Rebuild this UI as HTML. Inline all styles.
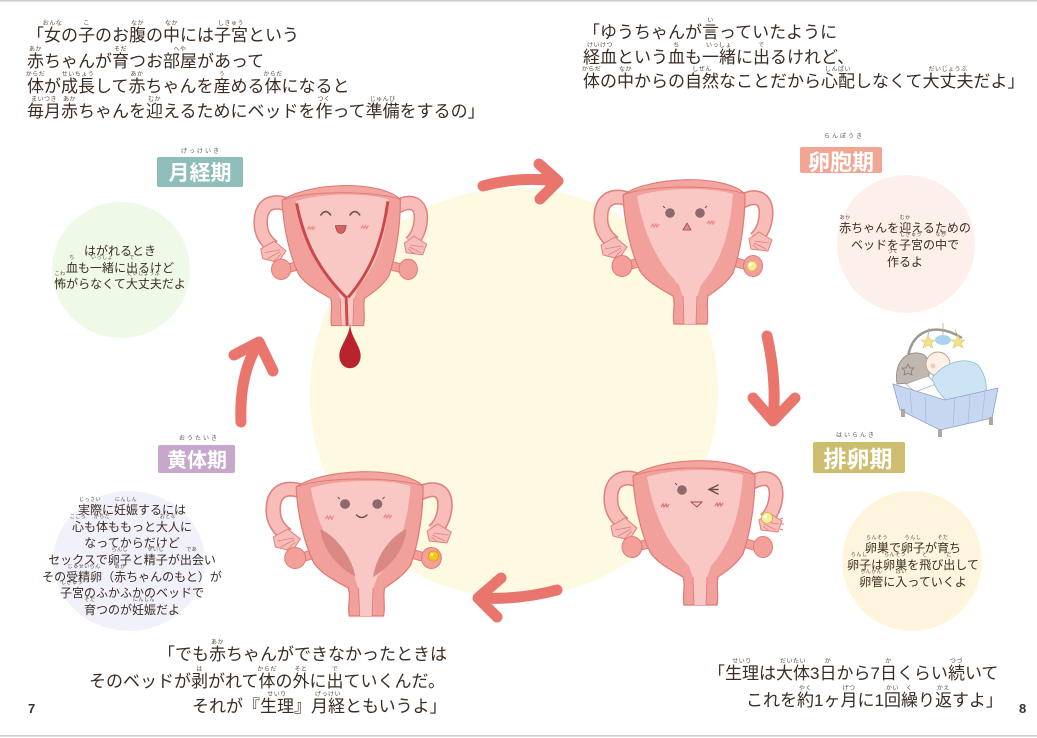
<!DOCTYPE html>
<html><head><meta charset="utf-8">
<style>
body{margin:0;width:1037px;height:738px;position:relative;overflow:hidden;background:#fff;font-family:"Liberation Sans","Noto Sans CJK JP",sans-serif;color:#3b2b20}
.t{position:absolute;white-space:nowrap;font-size:17px;line-height:17px}
.r{position:relative}
.r i{position:absolute;left:50%;transform:translateX(-50%);top:-5px;font-size:6px;line-height:6px;font-style:normal;white-space:nowrap;color:#5a4a3a;letter-spacing:0.5px}
.c{position:absolute;width:220px;text-align:center;font-size:12px;white-space:nowrap}
.c .r i{font-size:5px;line-height:5px;top:-5px}
svg{position:absolute;left:0;top:0}
</style></head><body>
<svg width="1037" height="738" viewBox="0 0 1037 738">
<defs>
<g id="ut">
 <path d="M42,28 C26,18 9,20 8,40 C7,54 13,62 21,68" fill="none" stroke="#e0807b" stroke-width="15"/>
 <path d="M42,28 C26,18 9,20 8,40 C7,54 13,62 21,68" fill="none" stroke="#f8bdb9" stroke-width="12"/>
 <path d="M146,28 C162,18 174,22 173,40 C172,52 168,59 162,64" fill="none" stroke="#e0807b" stroke-width="15"/>
 <path d="M146,28 C162,18 174,22 173,40 C172,52 168,59 162,64" fill="none" stroke="#f8bdb9" stroke-width="12"/>
 <path d="M22,62 L34,72 L26,84 L10,80 L8,70 Z" fill="#f8bdb9" stroke="#e0807b" stroke-width="1"/>
 <path d="M28,71 L12,74 M28,73 L15,80 M29,75 L21,83" stroke="#e0807b" stroke-width="0.8"/>
 <path d="M166,57 L179,65 L175,76 L158,74 L156,64 Z" fill="#f8bdb9" stroke="#e0807b" stroke-width="1"/>
 <path d="M162,66 L176,68 M161,68 L173,74 M160,70 L166,75" stroke="#e0807b" stroke-width="0.8"/>
 <path d="M49,82 L35,86 L35,95 L49,91 Z" fill="#f3a09b" stroke="#df7a76" stroke-width="1"/>
 <path d="M140,82 L154,86 L154,95 L140,91 Z" fill="#f3a09b" stroke="#df7a76" stroke-width="1"/>
 <ellipse cx="29" cy="91" rx="10" ry="10.5" fill="#f3a09b" stroke="#df7a76" stroke-width="1"/>
 <ellipse cx="160" cy="91" rx="9.5" ry="10.5" fill="#f3a09b" stroke="#df7a76" stroke-width="1"/>
 <path d="M30,20 C55,2 130,-2 152,19 C152,45 148,75 140,98 C132,110 122,116 115,121 C113,130 116,138 114,149 L81,149 C79,138 83,130 80,121 C70,115 55,108 47,96 C37,75 31,45 30,20 Z" fill="#f2a09b" stroke="#df7a76" stroke-width="1.2"/>
 <path d="M44,21 C70,12 118,12 140,19 C137,55 130,85 108,110 L104,122 L90,122 L86,110 C62,85 50,55 44,21 Z" fill="#fac8c4"/>
 <path d="M90,121 L104,121 L103,149 L91,149 Z" fill="#fac8c4"/>
 <path d="M90,121 L91,149 M104,121 L103,149" stroke="#df7a76" stroke-width="0.8"/>
 <path d="M30,20 C55,2 130,-2 152,19 C128,10 56,9 30,20 Z" fill="#f4a5a0" stroke="#df7a76" stroke-width="0.9"/>
</g>
</defs>
<rect width="1037" height="738" fill="#fff"/>
<rect x="0" y="0" width="1037" height="1.6" fill="#cfcfcf"/>
<rect x="0" y="735" width="1037" height="1.6" fill="#cfcfcf"/>

<!-- background blobs -->
<path d="M514,188 C630,186 720,280 718,395 C716,505 630,596 514,597 C400,598 310,510 310,395 C310,275 400,190 514,188 Z" fill="#fef9e1"/>
<ellipse cx="121" cy="270" rx="69" ry="68" fill="#eefae7"/>
<ellipse cx="906" cy="244" rx="69" ry="69" fill="#fdf0ea"/>
<ellipse cx="129" cy="561" rx="76" ry="70" fill="#f1f1fb"/>
<ellipse cx="912" cy="561" rx="70" ry="70" fill="#fef5dc"/>

<!-- badges -->
<rect x="157" y="157" width="86" height="30" rx="2" fill="#8fbdb9"/>
<rect x="800" y="147" width="82" height="26" rx="2" fill="#f3a593"/>
<rect x="158" y="445" width="77" height="28" rx="2" fill="#c7a7cc"/>
<rect x="813" y="442" width="92" height="31" rx="2" fill="#cfbd6f"/>
<g font-family="Liberation Sans, Noto Sans CJK JP, sans-serif" font-weight="700" fill="#fff" text-anchor="middle">
 <text x="200" y="180" font-size="21">月経期</text>
 <text x="841" y="170" font-size="22">卵胞期</text>
 <text x="197" y="467" font-size="20">黄体期</text>
 <text x="858" y="467" font-size="23">排卵期</text>
</g>
<g font-family="Liberation Sans, Noto Sans CJK JP, sans-serif" font-size="6" fill="#555" text-anchor="middle" letter-spacing="2">
 <text x="201" y="153">げっけいき</text>
 <text x="844" y="138">らんぽうき</text>
 <text x="199" y="440">おうたいき</text>
 <text x="856" y="437">はいらんき</text>
</g>

<!-- arrows -->
<g fill="none" stroke="#ea756d" stroke-width="11" stroke-linecap="round" stroke-linejoin="round">
 <path d="M483,186 Q520,176 556,181"/>
 <path d="M539,164 L558,181 L540,199"/>
 <path d="M767,336 Q777,380 773,420"/>
 <path d="M753,398 L773,421 L795,398"/>
 <path d="M557,590 Q520,600 479,598"/>
 <path d="M501,578 L478,598 L497,617"/>
 <path d="M241,422 Q239,375 258,344"/>
 <path d="M234,355 L259,342 L273,371"/>
</g>

<!-- TL uterus (menstrual) -->
<g transform="translate(253,181) scale(0.97)">
 <use href="#ut"/>
 <path d="M45,23 C52,60 66,90 96,120 L97,149" fill="none" stroke="#c43b3d" stroke-width="3" opacity="0.9"/>
 <path d="M139,21 C134,58 124,90 98,120" fill="none" stroke="#c43b3d" stroke-width="3" opacity="0.9"/>
 <path d="M100,146 C100,160 111,170 111,180 C111,188 106,193 100,193 C94,193 89,188 89,180 C89,170 100,160 100,146 Z" fill="#b8232d"/>
 <path d="M70,35 Q75,28 80,35 M100,35 Q105,28 110,35" fill="none" stroke="#6e5050" stroke-width="1.6" stroke-linecap="round"/>
 <path d="M85,46 L96,46 Q95,54 90.5,54 Q86,54 85,46 Z" fill="#d9605e" stroke="#8a4444" stroke-width="0.8"/>
 <path d="M56,50 l2,-3 l1,3 l2,-3 l1,3 l2,-3 M111,49 l2,-3 l1,3 l2,-3 l1,3 l2,-3" fill="none" stroke="#f08a85" stroke-width="1.2"/>
</g>

<!-- TR uterus (follicular) -->
<g transform="translate(593,175)">
 <use href="#ut"/>
 <circle cx="77" cy="38" r="4.8" fill="#8c6a6b"/>
 <circle cx="107" cy="38" r="4.8" fill="#8c6a6b"/>
 <path d="M72,33 l-2,-2 M112,33 l2,-2" stroke="#6e5050" stroke-width="1"/>
 <path d="M90,55 L94,48 L98,55 Z" fill="#e88b86" stroke="#9a4a4a" stroke-width="0.8"/>
 <path d="M58,52 l2,-3 l1,3 l2,-3 l1,3 l2,-3 M114,49 l2,-3 l1,3 l2,-3 l1,3 l2,-3" fill="none" stroke="#f08a85" stroke-width="1.2"/>
 <circle cx="159" cy="91" r="4.8" fill="#f4ee90" stroke="#d6c95a" stroke-width="0.8"/>
 <circle cx="157.5" cy="89.5" r="1.5" fill="#fff"/>
</g>

<!-- BL uterus (luteal) -->
<g transform="translate(265,467) scale(1.04,1)">
 <use href="#ut"/>
 <path d="M53,62 C70,70 84,92 87,110 C70,100 56,84 53,62 Z" fill="#d98884"/>
 <path d="M136,62 C119,70 106,92 104,110 C120,100 134,84 136,62 Z" fill="#d98884"/>
 <circle cx="77" cy="37" r="4.8" fill="#8c6a6b"/>
 <circle cx="108" cy="37" r="4.8" fill="#8c6a6b"/>
 <path d="M72,32 l-2,-2 M113,32 l2,-2" stroke="#6e5050" stroke-width="1"/>
 <path d="M88,48 Q93,53 98,48" fill="none" stroke="#6e5050" stroke-width="1.5" stroke-linecap="round"/>
 <path d="M58,52 l2,-3 l1,3 l2,-3 l1,3 l2,-3 M114,51 l2,-3 l1,3 l2,-3 l1,3 l2,-3" fill="none" stroke="#f08a85" stroke-width="1.2"/>
 <circle cx="162" cy="89" r="5" fill="#f5c518" stroke="#e0a000" stroke-width="0.8"/>
 <circle cx="160.5" cy="87.5" r="1.5" fill="#fff6c0"/>
</g>

<!-- BR uterus (ovulation) -->
<g transform="translate(603,456)">
 <use href="#ut"/>
 <circle cx="79" cy="34" r="4.8" fill="#8c6a6b"/>
 <path d="M74,29 l-2,-2" stroke="#6e5050" stroke-width="1"/>
 <path d="M115,29 L106,33.5 L115,38 M108,33.5 L115,33.5" fill="none" stroke="#6e5050" stroke-width="1.5" stroke-linecap="round"/>
 <path d="M88,46 L99,46 L94,51 Z" fill="#f6c2be" stroke="#9a4a4a" stroke-width="0.9"/>
 <path d="M58,51 l2,-3 l1,3 l2,-3 l1,3 l2,-3 M112,50 l2,-3 l1,3 l2,-3 l1,3 l2,-3" fill="none" stroke="#e06f6a" stroke-width="1.2"/>
 <circle cx="164" cy="62" r="5.5" fill="#f7ef9a" stroke="#c9b84a" stroke-width="0.8"/>
 <circle cx="162.5" cy="60.5" r="1.6" fill="#fff"/>
 <path d="M177,63 l3,-1 M178,68 l3,0 M177,73 l3,1" stroke="#e07e7a" stroke-width="1"/>
</g>

<!-- baby in bed -->
<g>
 <path d="M908,368 C905,336 930,318 962,338" stroke="#a09890" stroke-width="2.5" fill="none"/>
 <path d="M929,328 L928,336 M943,323 L943,335 M955,330 L958,336" stroke="#b0a8a0" stroke-width="0.8"/>
 <polygon points="928,335 930,340 935,340 931,343 933,348 928,345 923,348 925,343 921,340 926,340" fill="#f6e08c" stroke="#d9c36a" stroke-width="0.6"/>
 <ellipse cx="943" cy="340" rx="8" ry="5" fill="#a8d4ef"/>
 <polygon points="958,335 960,340 965,340 961,343 963,348 958,345 953,348 955,343 951,340 956,340" fill="#f6e08c" stroke="#d9c36a" stroke-width="0.6"/>
 <path d="M897,384 C894,364 904,352 918,353 C930,354 931,367 928,382 Z" fill="#bfb7b0" stroke="#8e857e" stroke-width="0.8"/>
 <polygon points="908,364 910,368 914,368 911,371 912,375 908,373 904,375 905,371 902,368 906,368" fill="none" stroke="#7d746e" stroke-width="0.7"/>
 <path d="M906,384 L928,376 L936,384 L915,392 Z" fill="#ffffff" stroke="#9aa6c0" stroke-width="0.7"/>
 <circle cx="938" cy="364" r="12" fill="#fdf0e6" stroke="#b8a293" stroke-width="0.9"/>
 <circle cx="933" cy="366" r="2.5" fill="#f6c9c0"/>
 <path d="M932,378 C945,362 965,356 978,365 C986,375 988,388 985,398 L948,402 C940,395 935,388 932,378 Z" fill="#cde4f4" stroke="#8fb8d6" stroke-width="0.8"/>
 <path d="M893,384 L945,400 L998,388 L992,418 L940,430 L900,410 Z" fill="#c7d7f1" stroke="#8aa0cc" stroke-width="0.8"/>
 <path d="M910,392 L912,414 M925,397 L926,422 M955,398 L953,426 M970,395 L968,424 M985,392 L982,420" stroke="#9fb3da" stroke-width="0.6"/>
 <rect x="901" y="409" width="4" height="8" fill="#b0a69e"/>
 <rect x="938" y="429" width="4" height="8" fill="#b0a69e"/>
 <rect x="989" y="417" width="4" height="8" fill="#b0a69e"/>
</g>

<text x="28" y="713" font-family="Liberation Sans, sans-serif" font-weight="700" font-size="13" fill="#333">7</text>
<text x="1019" y="713" font-family="Liberation Sans, sans-serif" font-weight="700" font-size="13" fill="#333">8</text>
</svg>

<!-- top-left narration -->
<div class="t" style="left:27px;top:27px">「<span class="r">女<i>おんな</i></span>の<span class="r">子<i>こ</i></span>のお<span class="r">腹<i>なか</i></span>の<span class="r">中<i>なか</i></span>には<span class="r">子宮<i>しきゅう</i></span>という</div>
<div class="t" style="left:27px;top:53px"><span class="r">赤<i>あか</i></span>ちゃんが<span class="r">育<i>そだ</i></span>つお<span class="r">部屋<i>へや</i></span>があって</div>
<div class="t" style="left:27px;top:78px"><span class="r">体<i>からだ</i></span>が<span class="r">成長<i>せいちょう</i></span>して<span class="r">赤<i>あか</i></span>ちゃんを<span class="r">産<i>う</i></span>める<span class="r">体<i>からだ</i></span>になると</div>
<div class="t" style="left:27px;top:103px"><span class="r">毎月<i>まいつき</i></span><span class="r">赤<i>あか</i></span>ちゃんを<span class="r">迎<i>むか</i></span>えるためにベッドを<span class="r">作<i>つく</i></span>って<span class="r">準備<i>じゅんび</i></span>をするの」</div>

<!-- top-right narration -->
<div class="t" style="left:583px;top:24px">「ゆうちゃんが<span class="r">言<i>い</i></span>っていたように</div>
<div class="t" style="left:583px;top:49px"><span class="r">経血<i>けいけつ</i></span>という<span class="r">血<i>ち</i></span>も<span class="r">一緒<i>いっしょ</i></span>に<span class="r">出<i>で</i></span>るけれど、</div>
<div class="t" style="left:583px;top:73px"><span class="r">体<i>からだ</i></span>の<span class="r">中<i>なか</i></span>からの<span class="r">自然<i>しぜん</i></span>なことだから<span class="r">心配<i>しんぱい</i></span>しなくて<span class="r">大丈夫<i>だいじょうぶ</i></span>だよ」</div>

<!-- bottom-left narration -->
<div class="t" style="left:158px;top:646px">「でも<span class="r">赤<i>あか</i></span>ちゃんができなかったときは</div>
<div class="t" style="left:89px;top:673px">そのベッドが<span class="r">剥<i>は</i></span>がれて<span class="r">体<i>からだ</i></span>の<span class="r">外<i>そと</i></span>に<span class="r">出<i>で</i></span>ていくんだ。</div>
<div class="t" style="left:192px;top:698px">それが『<span class="r">生理<i>せいり</i></span>』<span class="r">月経<i>げっけい</i></span>ともいうよ」</div>

<!-- bottom-right narration -->
<div class="t" style="left:708px;top:665px">「<span class="r">生理<i>せいり</i></span>は<span class="r">大体<i>だいたい</i></span>3<span class="r">日<i>か</i></span>から7<span class="r">日<i>か</i></span>くらい<span class="r">続<i>つづ</i></span>いて</div>
<div class="t" style="left:746px;top:692px">これを<span class="r">約<i>やく</i></span>1ヶ<span class="r">月<i>げつ</i></span>に1<span class="r">回<i>かい</i></span><span class="r">繰<i>く</i></span>り<span class="r">返<i>かえ</i></span>すよ」</div>

<!-- circle texts -->
<div class="c" style="left:10px;top:243px;line-height:16.5px">はがれるとき<br><span class="r">血<i>ち</i></span>も<span class="r">一緒<i>いっしょ</i></span>に<span class="r">出<i>で</i></span>るけど<br><span class="r">怖<i>こわ</i></span>がらなくて<span class="r">大丈夫<i>だいじょうぶ</i></span>だよ</div>

<div class="c" style="left:795px;top:220px;line-height:17px"><span class="r">赤<i>あか</i></span>ちゃんを<span class="r">迎<i>むか</i></span>えるための<br>ベッドを<span class="r">子宮<i>しきゅう</i></span>の<span class="r">中<i>なか</i></span>で<br><span class="r">作<i>つく</i></span>るよ</div>

<div class="c" style="left:22px;top:502px;line-height:16.67px"><span class="r">実際<i>じっさい</i></span>に<span class="r">妊娠<i>にんしん</i></span>するには<br><span class="r">心<i>こころ</i></span>も<span class="r">体<i>からだ</i></span>ももっと<span class="r">大人<i>おとな</i></span>に<br>なってからだけど<br>セックスで<span class="r">卵子<i>らんし</i></span>と<span class="r">精子<i>せいし</i></span>が<span class="r">出会<i>であ</i></span>い<br>その<span class="r">受精卵<i>じゅせいらん</i></span>（<span class="r">赤<i>あか</i></span>ちゃんのもと）が<br><span class="r">子宮<i>しきゅう</i></span>のふかふかのベッドで<br><span class="r">育<i>そだ</i></span>つのが<span class="r">妊娠<i>にんしん</i></span>だよ</div>

<div class="c" style="left:803px;top:540px;line-height:17px"><span class="r">卵巣<i>らんそう</i></span>で<span class="r">卵子<i>らんし</i></span>が<span class="r">育<i>そだ</i></span>ち<br><span class="r">卵子<i>らんし</i></span>は<span class="r">卵巣<i>らんそう</i></span>を<span class="r">飛<i>と</i></span>び<span class="r">出<i>だ</i></span>して<br><span class="r">卵管<i>らんかん</i></span>に<span class="r">入<i>はい</i></span>っていくよ</div>

</body></html>
